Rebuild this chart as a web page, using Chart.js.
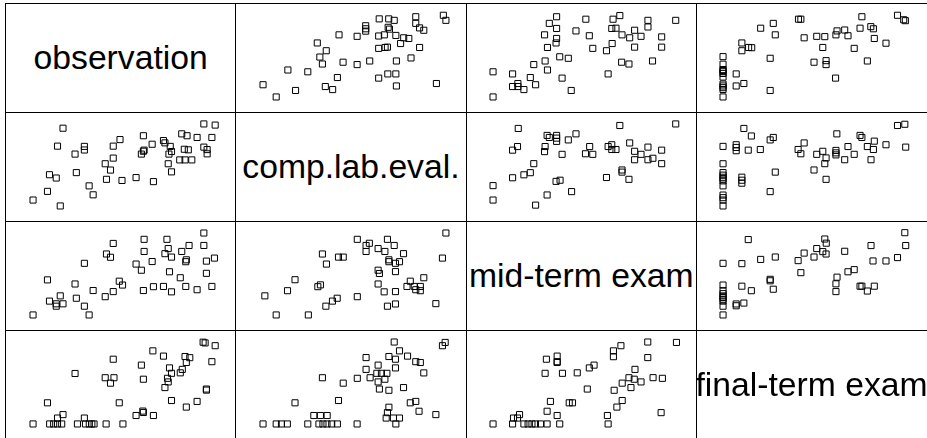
<!DOCTYPE html>
<html><head><meta charset="utf-8">
<script src="https://cdn.jsdelivr.net/npm/chart.js@4"></script>
<style>
html,body{margin:0;padding:0;background:#fff;}
#wrap{position:relative;width:927px;height:438px;overflow:hidden;background:#fff;}
.cell{position:absolute;box-sizing:border-box;border:1px solid #000;}
.lab{position:absolute;display:flex;align-items:center;justify-content:center;white-space:nowrap;font-family:"Liberation Sans",Arial,sans-serif;font-size:33.7px;color:#000;z-index:5;}
canvas{position:absolute;}
</style></head><body><div id="wrap"></div>
<script>
// variable names (diagonal labels)
const variableNames = ["observation", "comp.lab.eval.", "mid-term exam", "final-term exam"];

// scores of each pair (scale: min 0, max 100)
// observation vs comp.lab.eval.
const compA = [63.6,68.8,71.8,83.6,83.6,98.7,100.1,56.2,56.2,56.2,68.5,69.2,85.7,88.0,41.6,51.5,63.3,66.4,72.7,77.0,79.8,29.7,75.3,34.6,63.3,66.8,68.1,85.7,31.1,32.5,43.8,51.5,58.4,73.0,81.0,13.6,24.5,40.7,63.3,68.3,72.7,0.0,17.8,34.1,38.1,73.0,94.9,7.2];
const obsA  = [95.3,95.3,93.5,97.9,89.8,99.7,93.5,86.9,83.2,80.3,85.0,82.8,84.3,81.4,75.8,74.0,74.4,75.8,75.1,72.2,71.4,65.9,65.2,56.4,59.3,60.4,60.8,60.4,48.7,40.2,42.4,39.5,43.9,43.9,47.6,32.9,30.7,23.7,23.0,28.1,28.1,14.9,7.9,12.7,9.0,13.4,16.4,0.0];
// observation vs mid-term exam
const midB = [34.8,30.8,34.8,50.8,65.7,69.4,84.8,100.0,84.8,28.2,45.4,65.0,67.3,77.5,52.7,70.6,74.8,81.0,92.3,34.8,34.5,65.2,29.8,54.6,62.1,77.5,92.3,36.5,41.2,28.5,22.3,70.4,74.4,87.3,29.8,0.0,10.7,20.4,37.8,63.0,23.3,10.7,13.6,13.6,16.9,42.8,0.0];
const obsB = [97.9,89.8,83.6,94.9,94.9,99.3,93.5,93.5,85.4,75.8,80.6,83.6,83.9,81.4,74.7,75.8,72.2,74.0,73.3,71.4,65.9,65.2,60.4,59.3,56.4,60.8,60.8,49.0,47.2,43.9,39.5,42.4,40.2,43.9,32.9,30.7,28.1,23.7,23.0,28.1,14.9,12.7,16.4,12.7,9.0,7.9,0.0];
// observation vs final-term exam
const finalC = [41.3,42.6,76.0,95.5,98.9,99.8,20.6,27.5,28.6,44.4,51.3,55.7,61.8,62.4,66.6,68.4,75.0,80.9,82.3,82.8,89.2,10.3,10.3,14.0,15.7,54.6,71.8,25.8,49.8,56.4,56.4,79.0,0,0,0,0,0,0,0,0,0,0,0,0,7.2,7.2,11.4,25.8,61.6];
const obsC   = [94.9,94.9,97.9,99.7,94.2,93.1,83.9,89.8,75.8,72.2,74.0,73.6,75.8,80.6,81.7,74.7,83.9,85.8,83.2,71.4,65.6,65.9,56.4,60.4,60.1,60.4,59.3,47.2,42.4,44.3,39.5,43.9,0,9.1,11.3,13.4,15.7,24.3,28.7,30.8,32.2,33.4,40.0,49.2,28.1,13.4,16.4,7.9,23.0];
// comp.lab.eval. vs mid-term exam
const midD  = [13.8,69.4,100.0,29.6,30.8,34.8,34.8,34.8,41.2,45.4,13.4,10.7,28.5,28.2,37.8,52.9,50.6,54.6,63.0,65.0,65.0,67.3,74.8,77.5,81.0,84.8,92.3,77.5,84.8,87.5,92.3,22.3,20.4,16.9,10.7,0,0,34.5,36.7,29.6,23.3,43.0,62.1,70.6,70.6,74.4];
const compD = [94.6,98.2,100.1,86.1,83.6,86.1,82.8,78.8,80.6,88.0,72.5,68.1,72.5,66.3,63.0,72.5,63.7,63.0,72.5,74.7,68.9,68.9,76.9,66.7,63.0,71.8,68.1,56.4,56.4,58.2,51.6,51.6,40.6,38.0,34.4,24.8,7.2,30.0,31.4,13.4,1.0,17.5,34.7,43.9,41.3,32.5];
// comp.lab.eval. vs final-term exam
const finalE = [11.4,15.5,25.8,27.5,7.2,7.2,7.2,13.8,20.4,41.1,42.6,44.4,51.3,54.6,56.4,55.7,49.8,56.4,61.8,61.8,61.8,62.3,66.6,68.4,71.8,75.0,76.0,79.0,82.3,82.8,89.2,81.0,95.5,99.5,100.0,28.6,25.8,10.3,10.3,10.3,0,0,0,0,0,0,0,0,0,0,0,0];
const compE  = [94.6,85.4,80.6,83.6,74.7,71.4,67.4,68.1,68.9,68.9,63.7,76.9,63.0,66.7,58.6,51.6,43.9,32.5,67.8,64.8,62.3,88.0,56.4,72.5,63.0,86.1,83.6,72.5,68.9,79.1,74.7,56.4,98.2,99.7,71.8,41.3,17.5,35.1,31.4,27.8,0,7.2,10.1,13.3,24.5,30.6,32.8,35.0,37.6,40.7,51.5,72.7];
// mid-term exam vs final-term exam
const finalF = [13.8,55.7,56.5,51.3,54.6,56.4,44.4,41.1,49.8,66.6,81.0,99.5,100.0,82.1,89.2,95.5,10.3,20.6,28.6,42.6,62.4,68.4,71.8,61.8,61.8,75.0,76.0,79.0,82.8,25.8,25.8,27.5,10.3,15.5,7.2,7.2,11.4,0,0,0,0,0,0,0,0,0,0];
const midF   = [92.0,92.7,87.6,81.0,77.3,74.4,75.5,66.3,70.7,77.7,84.7,100.4,84.7,65.9,65.9,70.0,62.6,67.8,70.7,51.6,46.1,52.7,55.3,38.0,28.5,35.1,35.1,29.2,35.1,43.5,41.7,31.4,35.1,29.6,13.4,11.2,14.5,0,10.7,16.9,19.2,21.3,23.2,26.0,29.6,36.5,63.0];

// axis range shared by all variables (R-like padding)
const axisMin = -11.9, axisMax = 108.2;

// layout of the matrix
const colLines = [5, 235, 466, 696, 927];
const rowLines = [3, 112, 221, 330, 439];
const colStart = [5.5, 235.8, 466.1, 696.4], colWidth = 230.3;
const rowStart = [3.3, 112.3, 221.3, 330.3], rowHeight = 109;

const panels = [
  {r:0,c:1,x:compA,y:obsA},{r:1,c:0,x:obsA,y:compA},
  {r:0,c:2,x:midB,y:obsB},{r:2,c:0,x:obsB,y:midB},
  {r:0,c:3,x:finalC,y:obsC},{r:3,c:0,x:obsC,y:finalC},
  {r:1,c:2,x:midD,y:compD},{r:2,c:1,x:compD,y:midD},
  {r:1,c:3,x:finalE,y:compE},{r:3,c:1,x:compE,y:finalE},
  {r:2,c:3,x:finalF,y:midF},{r:3,c:2,x:midF,y:finalF}
];

const wrap = document.getElementById('wrap');
for (let r=0;r<4;r++) for (let c=0;c<4;c++) {
  const d = document.createElement('div');
  d.className='cell';
  d.style.left = colLines[c]+'px';
  d.style.top = rowLines[r]+'px';
  d.style.width = (colLines[c+1]-colLines[c]+1)+'px';
  d.style.height = (rowLines[r+1]-rowLines[r]+1)+'px';
  wrap.appendChild(d);
}
variableNames.forEach((name,i)=>{
  const l = document.createElement('div');
  l.className='lab';
  l.textContent = name;
  l.style.left = colStart[i]+'px';
  l.style.top = rowStart[i]+'px';
  l.style.width = colWidth+'px';
  l.style.height = rowHeight+'px';
  wrap.appendChild(l);
});

panels.forEach(p=>{
  const cv = document.createElement('canvas');
  const w = Math.round(colWidth), h = rowHeight;
  cv.width = w; cv.height = h;
  cv.style.left = Math.round(colStart[p.c])+'px';
  cv.style.top = Math.round(rowStart[p.r])+'px';
  cv.style.width = w+'px'; cv.style.height = h+'px';
  wrap.appendChild(cv);
  new Chart(cv, {
    type:'scatter',
    data:{datasets:[{
      data: p.x.map((v,k)=>({x:v,y:p.y[k]})),
      pointStyle:'rect', pointRadius:4.3, pointHoverRadius:4.3,
      pointBorderColor:'#000', pointBorderWidth:1,
      pointBackgroundColor:'rgba(0,0,0,0)', showLine:false, clip:false
    }]},
    options:{
      responsive:false, animation:false, devicePixelRatio:1, events:[],
      layout:{padding:0},
      plugins:{legend:{display:false},tooltip:{enabled:false},title:{display:false}},
      scales:{
        x:{type:'linear',display:false,min:axisMin,max:axisMax},
        y:{type:'linear',display:false,min:axisMin,max:axisMax}
      }
    }
  });
});
</script></body></html>
